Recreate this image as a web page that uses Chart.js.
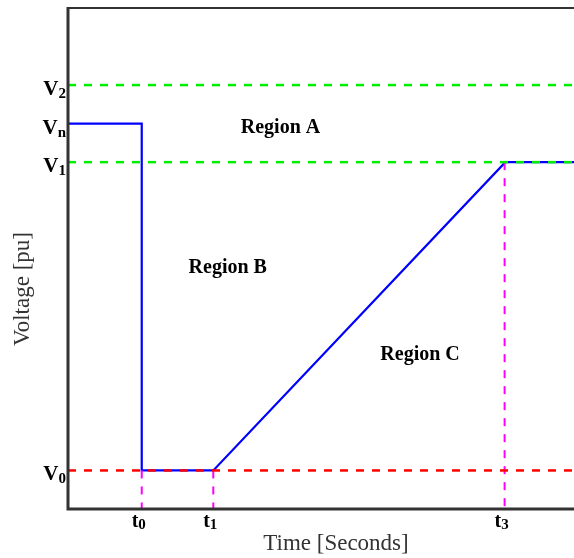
<!DOCTYPE html>
<html>
<head>
<meta charset="utf-8">
<script src="https://cdn.jsdelivr.net/npm/chart.js@4/dist/chart.umd.min.js"></script>
<style>
  html, body { margin: 0; padding: 0; background: #fff; }
  canvas { display: block; }
</style>
</head>
<body>
<canvas id="c" width="574" height="558"></canvas>
<script>
// ---- data ----
const timePoints     = [0, 1.02, 1.02, 2.01, 6.05, 7];
const voltageProfile = [1.0, 1.0, 0.1, 0.1, 0.9, 0.9];

const levelV2 = 1.1;
const levelV1 = 0.9;
const levelV0 = 0.1;

const tickT0 = 1.02;
const tickT1 = 2.01;
const tickT3 = 6.04;

const yTickValues = [1.1, 1.0, 0.9, 0.1];
const yTickMain   = ['V', 'V', 'V', 'V'];
const yTickSub    = ['2', 'n', '1', '0'];

const xTickValues = [1.02, 2.01, 6.04];
const xTickMain   = ['t', 't', 't'];
const xTickSub    = ['0', '1', '3'];

const regionNames = ['Region A', 'Region B', 'Region C'];
const regionTime  = [2.94, 2.21, 4.87];
const regionVolt  = [0.976, 0.612, 0.387];

const xTitle = 'Time [Seconds]';
const yTitle = 'Voltage [pu]';

// ---- helpers ----
function pts(xs, ys) { return xs.map((x, i) => ({ x: x, y: ys[i] })); }
const X_MIN = 0, X_MAX = 7, Y_MIN = 0, Y_MAX = 1.3;

const overlay = {
  id: 'overlay',
  afterDatasetsDraw(chart) {
    const { ctx, chartArea: a, scales: { x, y } } = chart;
    ctx.save();
    // frame
    ctx.strokeStyle = '#333';
    ctx.lineWidth = 2;
    ctx.beginPath();
    ctx.moveTo(a.left, a.top);
    ctx.lineTo(a.right, a.top);
    ctx.stroke();
    ctx.lineWidth = 3;
    ctx.beginPath();
    ctx.moveTo(a.left, a.top - 1);
    ctx.lineTo(a.left, a.bottom);
    ctx.lineTo(a.right, a.bottom);
    ctx.stroke();

    // y tick labels
    ctx.fillStyle = '#000';
    ctx.textBaseline = 'alphabetic';
    yTickValues.forEach((v, i) => {
      const py = y.getPixelForValue(v) + 10;
      ctx.font = 'bold 15px "Liberation Serif"';
      const sw = ctx.measureText(yTickSub[i]).width;
      ctx.textAlign = 'right';
      const right = a.left - 2;
      ctx.fillText(yTickSub[i], right, py + 3);
      ctx.font = 'bold 21px "Liberation Serif"';
      ctx.fillText(yTickMain[i], right - sw, py);
    });

    // x tick labels
    xTickValues.forEach((v, i) => {
      const px = x.getPixelForValue(v) - 3;
      ctx.font = 'bold 20px "Liberation Serif"';
      const mw = ctx.measureText(xTickMain[i]).width;
      ctx.font = 'bold 15px "Liberation Serif"';
      const sw = ctx.measureText(xTickSub[i]).width;
      const left = px - (mw + sw) / 2;
      ctx.textAlign = 'left';
      ctx.font = 'bold 20px "Liberation Serif"';
      ctx.fillText(xTickMain[i], left, 527);
      ctx.font = 'bold 15px "Liberation Serif"';
      ctx.fillText(xTickSub[i], left + mw, 529);
    });

    // region labels
    ctx.font = 'bold 20px "Liberation Serif"';
    ctx.textAlign = 'center';
    regionNames.forEach((n, i) => {
      ctx.fillText(n, x.getPixelForValue(regionTime[i]), y.getPixelForValue(regionVolt[i]));
    });

    // axis titles
    ctx.fillStyle = '#333';
    ctx.font = '23px "Liberation Serif"';
    ctx.textAlign = 'center';
    ctx.fillText(xTitle, (a.left + a.right) / 2 + 15, 550);
    ctx.save();
    ctx.translate(29, 289);
    ctx.rotate(-Math.PI / 2);
    ctx.fillText(yTitle, 0, 0);
    ctx.restore();

    ctx.restore();
  }
};

const dashH = [8, 8];
const dashV = [8, 8];

new Chart(document.getElementById('c'), {
  type: 'line',
  data: {
    datasets: [
      { data: pts([X_MIN, X_MAX], [levelV2, levelV2]), borderColor: '#00ee00', borderWidth: 2.5, borderDash: dashH, order: 1 },
      { data: pts([X_MIN, X_MAX], [levelV1, levelV1]), borderColor: '#00ee00', borderWidth: 2.5, borderDash: dashH, order: 1 },
      { data: pts([X_MIN, X_MAX], [levelV0, levelV0]), borderColor: '#ff0000', borderWidth: 2.5, borderDash: dashH, order: 1 },
      { data: pts([tickT0, tickT0], [levelV0, Y_MIN]), borderColor: '#ff00ff', borderWidth: 2, borderDash: dashV, order: 1 },
      { data: pts([tickT1, tickT1], [levelV0, Y_MIN]), borderColor: '#ff00ff', borderWidth: 2, borderDash: dashV, order: 1 },
      { data: pts([tickT3, tickT3], [levelV1, Y_MIN]), borderColor: '#ff00ff', borderWidth: 2, borderDash: dashV, order: 1 },
      { data: pts(timePoints, voltageProfile), borderColor: '#0000ff', borderWidth: 2.2, order: 10 }
    ]
  },
  options: {
    responsive: false,
    animation: false,
    devicePixelRatio: 1,
    layout: { padding: { left: 68, top: 8, right: 0, bottom: 49 } },
    elements: { point: { radius: 0, hoverRadius: 0 }, line: { tension: 0, fill: false } },
    plugins: { legend: { display: false }, tooltip: { enabled: false } },
    events: [],
    scales: {
      x: { type: 'linear', min: X_MIN, max: X_MAX, display: false },
      y: { type: 'linear', min: Y_MIN, max: Y_MAX, display: false }
    }
  },
  plugins: [overlay]
});
</script>
</body>
</html>
